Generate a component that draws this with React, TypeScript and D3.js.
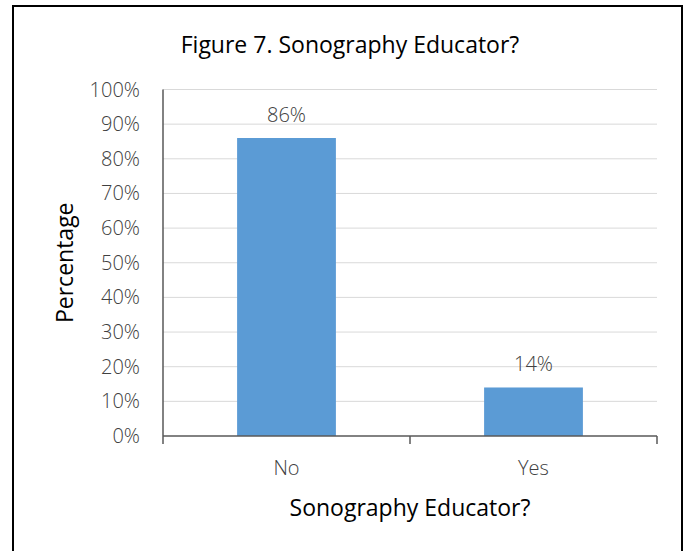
import { useEffect, useRef } from 'react'
import * as d3 from 'd3'

const categories = ['No', 'Yes']
const percentages = [86, 14]
const yTicks = [0, 10, 20, 30, 40, 50, 60, 70, 80, 90, 100]

const width = 688
const height = 551

export default function App() {
  const svgRef = useRef<SVGSVGElement>(null)

  useEffect(() => {
    if (!svgRef.current) return
    const svg = d3.select(svgRef.current)
    svg.selectAll('*').remove()

    const font = "'Open Sans', 'Noto Sans', sans-serif"
    const small = 20
    const big = 23
    const margin = { top: 89.5, right: 31, bottom: 115, left: 163 }
    const innerWidth = width - margin.left - margin.right
    const innerHeight = height - margin.top - margin.bottom

    svg.append('rect').attr('width', width).attr('height', height).attr('fill', 'white')

    // outer frame
    svg.append('path')
      .attr('d', `M13,${height + 2} V6 H682 V${height + 2}`)
      .attr('fill', 'none')
      .attr('stroke', '#000')
      .attr('stroke-width', 2)

    const g = svg.append('g').attr('transform', `translate(${margin.left},${margin.top})`)

    const x = d3.scaleBand().domain(categories).range([0, innerWidth]).paddingInner(0.6).paddingOuter(0.3)
    const y = d3.scaleLinear().domain([0, 100]).range([innerHeight, 0])

    // gridlines
    g.selectAll('.grid')
      .data(yTicks.filter(t => t > 0))
      .enter()
      .append('line')
      .attr('x1', 0)
      .attr('x2', innerWidth)
      .attr('y1', d => y(d))
      .attr('y2', d => y(d))
      .attr('stroke', '#d9d9d9')
      .attr('stroke-width', 1)

    // bars
    g.selectAll('.bar')
      .data(percentages)
      .enter()
      .append('rect')
      .attr('x', (_, i) => x(categories[i])!)
      .attr('y', d => y(d))
      .attr('width', x.bandwidth())
      .attr('height', d => innerHeight - y(d))
      .attr('fill', '#5b9bd5')

    // data labels
    g.selectAll('.label')
      .data(percentages)
      .enter()
      .append('text')
      .attr('x', (_, i) => x(categories[i])! + x.bandwidth() / 2)
      .attr('y', d => y(d) - 16)
      .attr('text-anchor', 'middle')
      .attr('font-family', font)
      .attr('font-weight', 300)
      .attr('font-size', small)
      .attr('fill', '#404040')
      .text(d => `${d}%`)

    // y axis line
    g.append('line')
      .attr('x1', 0).attr('x2', 0)
      .attr('y1', 0).attr('y2', innerHeight)
      .attr('stroke', '#595959').attr('stroke-width', 1.5)

    // x axis line + ticks at band edges
    g.append('line')
      .attr('x1', 0).attr('x2', innerWidth)
      .attr('y1', innerHeight).attr('y2', innerHeight)
      .attr('stroke', '#595959').attr('stroke-width', 1.5)

    const step = innerWidth / categories.length
    g.selectAll('.xtick')
      .data(d3.range(categories.length + 1))
      .enter()
      .append('line')
      .attr('x1', d => d * step)
      .attr('x2', d => d * step)
      .attr('y1', innerHeight)
      .attr('y2', innerHeight + 8)
      .attr('stroke', '#595959').attr('stroke-width', 1.5)

    // y tick labels
    g.selectAll('.ytick')
      .data(yTicks)
      .enter()
      .append('text')
      .attr('x', -23)
      .attr('y', d => y(d))
      .attr('dy', '0.35em')
      .attr('text-anchor', 'end')
      .attr('font-family', font)
      .attr('font-weight', 300)
      .attr('font-size', small)
      .attr('fill', '#404040')
      .text(d => `${d}%`)

    // x tick labels
    g.selectAll('.xlabel')
      .data(categories)
      .enter()
      .append('text')
      .attr('x', d => x(d)! + x.bandwidth() / 2)
      .attr('y', innerHeight + 39)
      .attr('text-anchor', 'middle')
      .attr('font-family', font)
      .attr('font-weight', 300)
      .attr('font-size', small)
      .attr('fill', '#404040')
      .text(d => d)

    // title
    svg.append('text')
      .attr('x', 350)
      .attr('y', 53)
      .attr('text-anchor', 'middle')
      .attr('font-family', font)
      .attr('font-size', big)
      .attr('fill', '#000')
      .text('Figure 7. Sonography Educator?')

    // x axis title
    svg.append('text')
      .attr('x', margin.left + innerWidth / 2)
      .attr('y', 516)
      .attr('text-anchor', 'middle')
      .attr('font-family', font)
      .attr('font-size', big)
      .attr('fill', '#000')
      .text('Sonography Educator?')

    // y axis title
    svg.append('text')
      .attr('transform', `translate(73,${margin.top + innerHeight / 2}) rotate(-90)`)
      .attr('text-anchor', 'middle')
      .attr('font-family', font)
      .attr('font-size', big)
      .attr('fill', '#000')
      .text('Percentage')
  }, [])

  return (
    <svg
      ref={svgRef}
      width={width}
      height={height}
      style={{ position: 'absolute', left: 0, top: 0 }}
    />
  )
}
